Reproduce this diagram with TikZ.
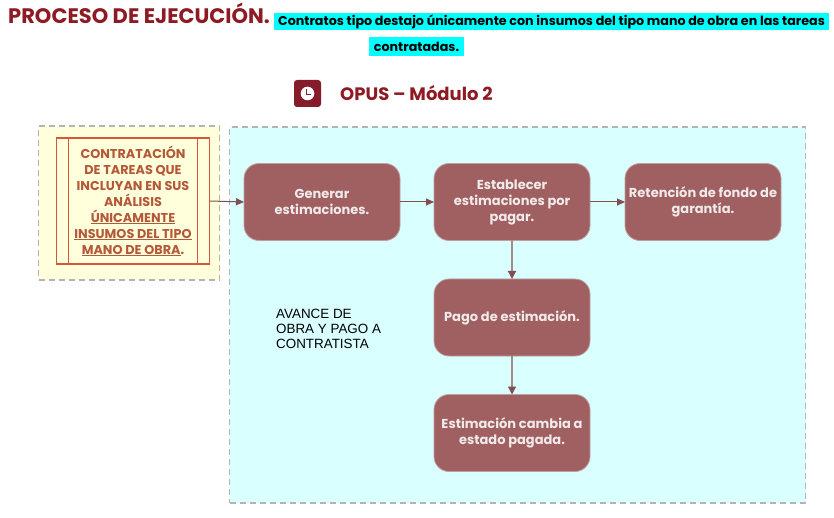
\documentclass[tikz,border=0pt]{standalone}
\usepackage{fontspec}
\setmainfont{Poppins}
\newfontfamily\arialf{Liberation Sans}
\usetikzlibrary{arrows.meta,calc}
\definecolor{titlered}{HTML}{8E1B24}
\definecolor{iconred}{HTML}{861B2B}
\definecolor{stepfill}{HTML}{A05F60}
\definecolor{stepline}{HTML}{BFA0A0}
\definecolor{steptext}{HTML}{F1EAEA}
\definecolor{paneblue}{HTML}{D9FFFF}
\definecolor{paneyellow}{HTML}{FFFFDC}
\definecolor{panedash}{HTML}{B4B4B4}
\definecolor{boxorange}{HTML}{D4573A}
\definecolor{textorange}{HTML}{B4583A}
\definecolor{arrowdark}{HTML}{7F4F52}
\definecolor{arrowgray}{HTML}{A08A8C}
\definecolor{hilitecyan}{HTML}{00FFFF}
\tikzset{
  x=1pt,y=-1pt,
  pane/.style={draw=panedash,dash pattern=on 6pt off 4pt,line width=1.2pt,inner sep=0pt,outer sep=0pt,anchor=north west},
  stepbox/.style={draw=stepline,fill=stepfill,rounded corners=15pt,line width=0.8pt,minimum width=156pt,minimum height=77pt,
    inner sep=0pt,outer sep=0pt,align=center,text=steptext,font=\fontsize{13}{16}\selectfont\bfseries,anchor=north west},
  flowh/.style={draw=arrowdark,line width=1pt,-{Triangle[length=8pt,width=7pt,fill=arrowdark]},shorten >=0pt},
  flowv/.style={draw=arrowgray,line width=1.4pt,-{Triangle[length=8pt,width=8pt,color=arrowdark,fill=arrowdark]}},
  hilite/.style={fill=hilitecyan,inner sep=0pt,outer sep=0pt,text=black,font=\fontsize{12.7}{13}\selectfont\bfseries,anchor=north west},
}
\begin{document}
\begin{tikzpicture}
\useasboundingbox (0,0) rectangle (834,518);
\fill[white] (0,0) rectangle (834,518);
\node[anchor=base west,inner sep=0pt,text=titlered,font=\fontsize{21}{24}\selectfont\bfseries] (title) at (8,24) {PROCESO DE EJECUCIÓN.};
\node[hilite,minimum width=555pt,minimum height=17pt] (sub1) at (274,13) {Contratos tipo destajo únicamente con insumos del tipo mano de obra en las tareas};
\node[hilite,minimum width=95pt,minimum height=19pt] (sub2) at (369,37) {contratadas.\hspace{12pt}};
\node[fill=iconred,rounded corners=3pt,minimum width=27pt,minimum height=27pt,inner sep=0pt] (icon) at (307.5,93.5) {};
\fill[white] (icon.center) circle (6.8pt);
\draw[iconred,line width=1.4pt] ($(icon.center)+(-1,-4.5)$) -- ($(icon.center)+(-1,1.2)$) -- ($(icon.center)+(3.8,1.2)$);
\node[anchor=base west,inner sep=0pt,text=titlered,font=\fontsize{18}{20}\selectfont\bfseries] (opus) at (340,101) {OPUS – Módulo 2};
\node[pane,fill=paneblue,minimum width=576pt,minimum height=376pt] (bluepane) at (229.5,127) {};
\node[pane,fill=paneyellow,minimum width=181pt,minimum height=154pt] (yellowpane) at (38.5,126) {};
\node[draw=boxorange,line width=1.5pt,minimum width=153pt,minimum height=126pt,inner sep=0pt,outer sep=0pt,anchor=north west,align=center,text=textorange,
  font=\fontsize{12.8}{16}\selectfont\bfseries] (contract) at (56.5,138)
  {CONTRATACIÓN\\DE TAREAS QUE\\INCLUYAN EN SUS\\ANÁLISIS\\\underline{ÚNICAMENTE}\\\underline{INSUMOS DEL TIPO}\\\underline{MANO DE OBRA}.};
\draw[boxorange,line width=1.5pt] ($(contract.north west)+(12,0)$) -- ($(contract.south west)+(12,0)$);
\draw[boxorange,line width=1.5pt] ($(contract.north east)+(-12,0)$) -- ($(contract.south east)+(-12,0)$);
\node[stepbox] (gen) at (244,163.5) {Generar\\estimaciones.};
\node[stepbox] (est) at (434,163.5) {Establecer\\estimaciones por\\pagar.};
\node[stepbox] (ret) at (625,163.5) {Retención de fondo de\\garantía.};
\node[stepbox] (pago) at (434,279) {Pago de estimación.};
\node[stepbox] (camb) at (434,394.5) {Estimación cambia a\\estado pagada.};
\node[anchor=north west,inner sep=0pt,align=left,text=black,font=\arialf\fontsize{13.4}{15}\selectfont] (avance) at (276,308.5) {AVANCE DE\\OBRA Y PAGO A\\CONTRATISTA};
\draw[flowh] (contract.east) -- (gen.west);
\draw[flowh] (gen) -- (est);
\draw[flowh] (est) -- (ret);
\draw[flowv] (est) -- (pago);
\draw[flowv] (pago) -- (camb);
\end{tikzpicture}
\end{document}
